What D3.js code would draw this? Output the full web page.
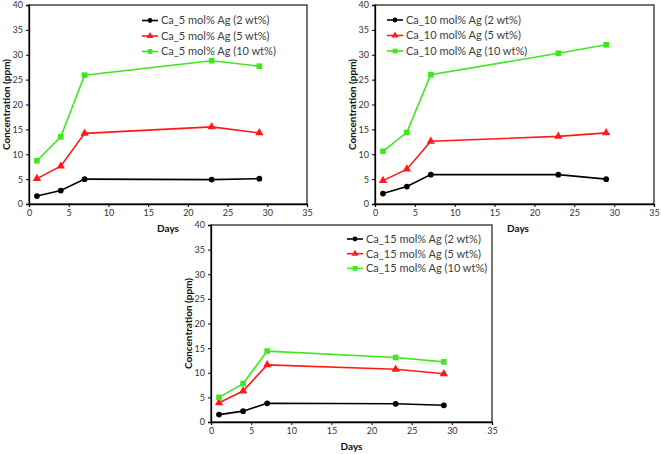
<!DOCTYPE html>
<html>
<head>
<meta charset="utf-8">
<script src="https://cdn.jsdelivr.net/npm/d3@7"></script>
<style>
  html, body { margin: 0; padding: 0; background: #fff; }
  svg { display: block; font-family: Lato, "Open Sans", sans-serif; }
</style>
</head>
<body>
<svg id="chart" width="661" height="454"></svg>
<script>
// ---------- DATA ----------
const days = [1, 4, 7, 23, 29];

const ca5_2wt  = [1.6, 2.7, 5.0, 4.9, 5.1];
const ca5_5wt  = [5.1, 7.6, 14.2, 15.5, 14.3];
const ca5_10wt = [8.7, 13.5, 25.9, 28.8, 27.7];

const ca10_2wt  = [2.1, 3.5, 5.9, 5.9, 5.0];
const ca10_5wt  = [4.7, 7.0, 12.6, 13.6, 14.3];
const ca10_10wt = [10.6, 14.4, 26.0, 30.3, 32.0];

const ca15_2wt  = [1.5, 2.2, 3.8, 3.7, 3.4];
const ca15_5wt  = [3.9, 6.3, 11.6, 10.7, 9.8];
const ca15_10wt = [5.0, 7.8, 14.4, 13.1, 12.2];

const labels5  = ["Ca_5 mol% Ag (2 wt%)", "Ca_5 mol% Ag (5 wt%)", "Ca_5 mol% Ag (10 wt%)"];
const labels10 = ["Ca_10 mol% Ag (2 wt%)", "Ca_10 mol% Ag (5 wt%)", "Ca_10 mol% Ag (10 wt%)"];
const labels15 = ["Ca_15 mol% Ag (2 wt%)", "Ca_15 mol% Ag (5 wt%)", "Ca_15 mol% Ag (10 wt%)"];

const xTicks = [0, 5, 10, 15, 20, 25, 30, 35];
const yTicks = [0, 5, 10, 15, 20, 25, 30, 35, 40];
const xTitle = "Days";
const yTitle = "Concentration (ppm)";

// ---------- STYLE ----------
const colors = ["#000000", "#ff1a1a", "#3ee81e"];
const markerTypes = [d3.symbolCircle, d3.symbolTriangle, d3.symbolSquare];
const markerSizes = [26, 30, 32];

const svg = d3.select("#chart");

function drawPanel(cfg) {
  const { left, top, width, height, series, labels, legend, xTitleX } = cfg;
  const g = svg.append("g");
  const x = d3.scaleLinear().domain([0, 35]).range([left, left + width]);
  const y = d3.scaleLinear().domain([0, 40]).range([top + height, top]);

  // plot area border
  g.append("rect")
    .attr("x", left).attr("y", top)
    .attr("width", width).attr("height", height)
    .attr("fill", "#fff")
    .attr("stroke", "#2a2a2a").attr("stroke-width", 1.3);

  // axes
  const yAxis = d3.axisLeft(y).tickValues(yTicks).tickSize(3).tickPadding(3);
  const xAxis = d3.axisBottom(x).tickValues(xTicks).tickSize(3).tickPadding(3);

  const ya = g.append("g").attr("transform", `translate(${left},0)`).call(yAxis);
  const xa = g.append("g").attr("transform", `translate(0,${top + height})`).call(xAxis);
  [ya, xa].forEach(a => {
    a.select(".domain").attr("stroke", "#000").attr("stroke-width", 1.3);
    a.selectAll(".tick line").attr("stroke", "#000");
    a.selectAll(".tick text").attr("fill", "#333").style("font-size", "9px")
      .style("font-family", "Lato, 'Open Sans', sans-serif");
  });

  // axis titles
  g.append("text")
    .attr("x", xTitleX !== undefined ? xTitleX : left + width / 2)
    .attr("y", top + height + 28)
    .attr("text-anchor", "middle")
    .style("font-size", "10px").style("font-weight", "bold").attr("fill", "#111")
    .text(xTitle);
  g.append("text")
    .attr("transform", `translate(${left - 19.5},${top + height / 2}) rotate(-90)`)
    .attr("text-anchor", "middle")
    .style("font-size", "10px").style("font-weight", "bold").attr("fill", "#111")
    .text(yTitle);

  // series
  const line = d3.line().x((d, i) => x(days[i])).y(d => y(d));
  series.forEach((vals, si) => {
    g.append("path").datum(vals)
      .attr("d", line).attr("fill", "none")
      .attr("stroke", colors[si]).attr("stroke-width", 1.6);
    g.selectAll(null).data(vals).enter().append("path")
      .attr("d", d3.symbol().type(markerTypes[si]).size(markerSizes[si]))
      .attr("transform", (d, i) => `translate(${x(days[i])},${y(d)})`)
      .attr("fill", colors[si]);
  });

  // legend
  labels.forEach((lab, i) => {
    const ly = legend.y + i * legend.dy;
    g.append("line")
      .attr("x1", legend.x).attr("x2", legend.x + 16)
      .attr("y1", ly).attr("y2", ly)
      .attr("stroke", colors[i]).attr("stroke-width", 1.6);
    g.append("path")
      .attr("d", d3.symbol().type(markerTypes[i]).size(markerSizes[i] * 0.7))
      .attr("transform", `translate(${legend.x + 8},${ly})`)
      .attr("fill", colors[i]);
    g.append("text")
      .attr("x", legend.x + 19).attr("y", ly).attr("dy", "0.35em")
      .style("font-size", "11px").attr("fill", "#404040")
      .text(lab);
  });
}

drawPanel({
  left: 29, top: 5, width: 278, height: 199,
  series: [ca5_2wt, ca5_5wt, ca5_10wt], labels: labels5,
  legend: { x: 142, y: 20.5, dy: 15.5 }
});
drawPanel({
  left: 375, top: 5, width: 279, height: 199,
  series: [ca10_2wt, ca10_5wt, ca10_10wt], labels: labels10,
  legend: { x: 387, y: 20, dy: 15.5 },
  xTitleX: 518
});
drawPanel({
  left: 211, top: 225, width: 281, height: 197,
  series: [ca15_2wt, ca15_5wt, ca15_10wt], labels: labels15,
  legend: { x: 347, y: 239, dy: 14.7 }
});
</script>
</body>
</html>
